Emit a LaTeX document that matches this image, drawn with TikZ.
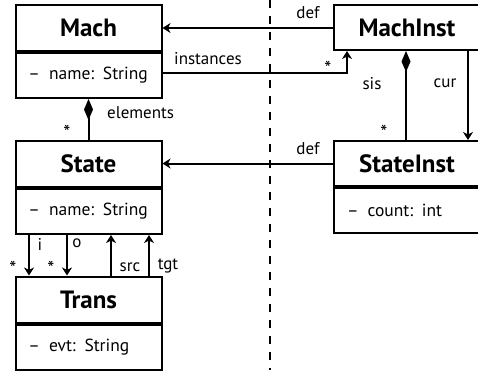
\documentclass[tikz,border=0pt]{standalone}
\usepackage{fontspec}
\setmainfont{PT Sans}
\usetikzlibrary{arrows.meta,calc}

\tikzset{
  classhead/.style={draw, line width=2pt, minimum width=146pt, minimum height=46pt,
    inner sep=0pt, align=center, font=\fontsize{25}{28}\selectfont\bfseries},
  classattr/.style={draw, line width=2pt, minimum width=146pt, minimum height=45pt,
    inner xsep=0pt, inner ysep=0pt, text width=146pt, align=left,
    font=\fontsize{17.5}{20}\selectfont},
  wideclass/.style={minimum width=170pt},
  conn/.style={line width=2pt},
  arr/.style={conn, -{Stealth[length=8pt,width=10pt,inset=2.5pt]}},
  comp/.style={conn, {Diamond[length=21pt,width=9pt]}-},
  lbl/.style={font=\fontsize{17}{19}\selectfont, inner sep=0pt},
  star/.style={font=\fontsize{20}{20}\selectfont, inner sep=0pt},
  divider/.style={line width=2pt, dash pattern=on 8pt off 8pt}
}
\newcommand{\attrrow}[1]{\hspace*{13pt}–\hspace{9pt}#1}

\begin{document}
\begin{tikzpicture}[x=1pt,y=-1pt]
\path[use as bounding box] (0,0) rectangle (478,370);
\clip (0,0) rectangle (478,370);

% meta level / instance level separator
\coordinate (sepTop) at (270,0);
\coordinate (sepBot) at (270,370);
\draw[divider] (sepTop) -- (sepBot);

% classes on the left
\node[classhead] (mach) at (88.5,28) {Mach};
\node[classattr, anchor=north] (machA) at (mach.south) {\attrrow{name: String}};
\node[classhead] (state) at (88.5,164) {State};
\node[classattr, anchor=north] (stateA) at (state.south) {\attrrow{name: String}};
\node[classhead] (trans) at (88.5,299.5) {Trans};
\node[classattr, anchor=north] (transA) at (trans.south) {\attrrow{evt: String}};

% instance classes on the right (running past the right margin)
\node[classhead, wideclass, minimum height=45pt, anchor=west] (machInst) at (333,27.5) {MachInst\hspace*{24pt}};
\node[classhead, wideclass, minimum height=45pt, anchor=west] (stateInst) at (333,163.5) {StateInst\hspace*{24pt}};
\node[classattr, wideclass, text width=170pt, anchor=north] (stateInstA) at (stateInst.south) {\attrrow{count: int}};

% MachInst --def--> Mach
\draw[arr] (machInst.west |- 0,28) -- (mach.east |- 0,28);
\node[lbl] (defTop) at (308,13) {def};

% Mach --instances--> MachInst
\coordinate (instBend) at (347,73);
\draw[arr] (machA.east |- instBend) -- (instBend) -- (instBend |- machInst.south);
\node[lbl] (instLbl) at (208,59) {instances};
\node[star] (instStar) at (328,68) {*};

% Mach <>-- State (elements)
\draw[comp] (machA.south) -- (state.north);
\node[lbl, anchor=west] (elemLbl) at (107,113) {elements};
\node[star] (elemStar) at (67,132) {*};

% MachInst <>-- StateInst (sis)
\coordinate (sisX) at (406,0);
\draw[comp] (machInst.south -| sisX) -- (stateInst.north -| sisX);
\node[lbl] (sisLbl) at (372,84) {sis};
\node[star] (sisStar) at (384,132) {*};

% MachInst --cur--> StateInst
\coordinate (curX) at (468,0);
\draw[arr] (machInst.south -| curX) -- (stateInst.north -| curX);
\node[lbl] (curLbl) at (445,83) {cur};

% StateInst --def--> State
\draw[arr] (stateInst.west) -- (state.east |- stateInst.west);
\node[lbl] (defMid) at (308,149) {def};

% State <-> Trans associations
\coordinate (iX) at (29,0);
\coordinate (oX) at (67,0);
\coordinate (srcX) at (111,0);
\coordinate (tgtX) at (149,0);
\draw[arr] (stateA.south -| iX) -- (trans.north -| iX);
\draw[arr] (stateA.south -| oX) -- (trans.north -| oX);
\draw[arr] (trans.north -| srcX) -- (stateA.south -| srcX);
\draw[arr] (trans.north -| tgtX) -- (stateA.south -| tgtX);
\node[lbl] (iLbl) at (40,244) {i};
\node[lbl] (oLbl) at (77,243) {o};
\node[star] (iStar) at (13,268) {*};
\node[star] (oStar) at (51,268) {*};
\node[lbl] (srcLbl) at (130,267) {src};
\node[lbl] (tgtLbl) at (168,266) {tgt};
\end{tikzpicture}
\end{document}
